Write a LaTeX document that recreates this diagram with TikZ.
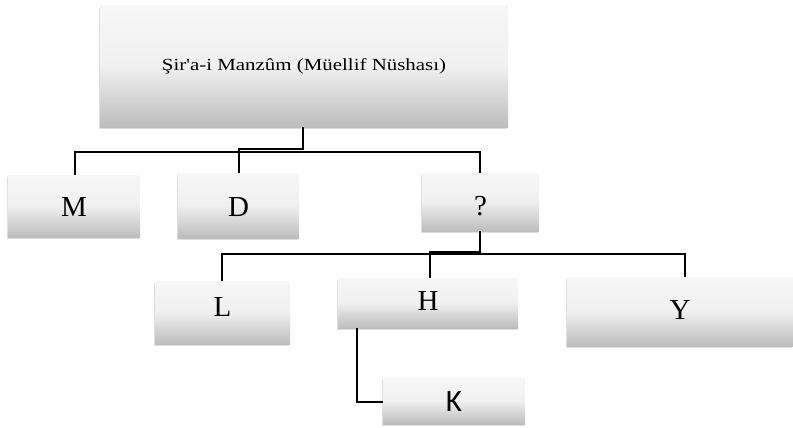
\documentclass[tikz,border=0pt]{standalone}
\usepackage{fontspec}
\setmainfont{Liberation Serif}
\newfontfamily\topfont{Liberation Serif}[Ligatures=TeXOff]
\newfontfamily\kfont{Carlito}
\usetikzlibrary{shadows}
\definecolor{gtop}{HTML}{F7F7F7}
\definecolor{gbot}{HTML}{BDBDBD}
\newcommand{\lbl}[2]{\raisebox{#1}[0pt][0pt]{#2}}
\tikzset{
  box/.style={rectangle, inner sep=0pt, top color=gtop, bottom color=gbot,
    middle color=gray!12,
    drop shadow={shadow xshift=-1.5pt, shadow yshift=-2pt, opacity=0.25, fill=gray},
    font=\fontsize{29}{30}\selectfont},
  link/.style={draw=black, line width=1.6pt}
}
\begin{document}
\begin{tikzpicture}[x=1pt,y=-1pt]
\useasboundingbox (0,0) rectangle (793,428);
% boxes
\node[box, minimum width=408pt, minimum height=121pt, font=\topfont\fontsize{17}{19}\selectfont] (top) at (304,66.5) {\hspace*{0pt}\scalebox{1.23}[1]{Şir'a-i Manzûm (Müellif Nüshası)}};
\node[box, minimum width=132pt, minimum height=62pt] (M) at (74,206) {\lbl{-10.1pt}{M}};
\node[box, minimum width=121pt, minimum height=65pt] (D) at (238.5,205.5) {\lbl{-10.6pt}{D}};
\node[box, minimum width=117pt, minimum height=58pt] (Q) at (480.5,202) {\lbl{-13.8pt}{?}};
\node[box, minimum width=135pt, minimum height=63pt] (L) at (222.5,312.5) {\lbl{-3.6pt}{L}};
\node[box, minimum width=180pt, minimum height=50pt] (H) at (428,303) {\lbl{-7.6pt}{H}};
\node[box, minimum width=226pt, minimum height=69pt] (Y) at (680,311.5) {\lbl{-8.1pt}{Y}};
\node[box, minimum width=142pt, minimum height=46pt, font=\kfont\fontsize{31}{32}\selectfont] (K) at (454,401) {\lbl{-10pt}{K}};
% connectors
\coordinate (c1) at (303,149);
\draw[link] (top.south -| c1) -- (c1) -- (239,149) -- (D.north -| 239,0);
\draw[link] (M.north -| 75,0) -- (75,152) -- (480,152) -- (Q.north -| 480,0);
\draw[link] (Q.south -| 480,0) -- (480,252) -- (430,252) -- (H.north -| 430,0);
\draw[link] (L.north -| 222,0) -- (222,254) -- (685,254) -- (Y.north -| 685,0);
\draw[link] (H.south -| 357,0) -- (357,402) -- (K.west |- 0,402);
\end{tikzpicture}
\end{document}
